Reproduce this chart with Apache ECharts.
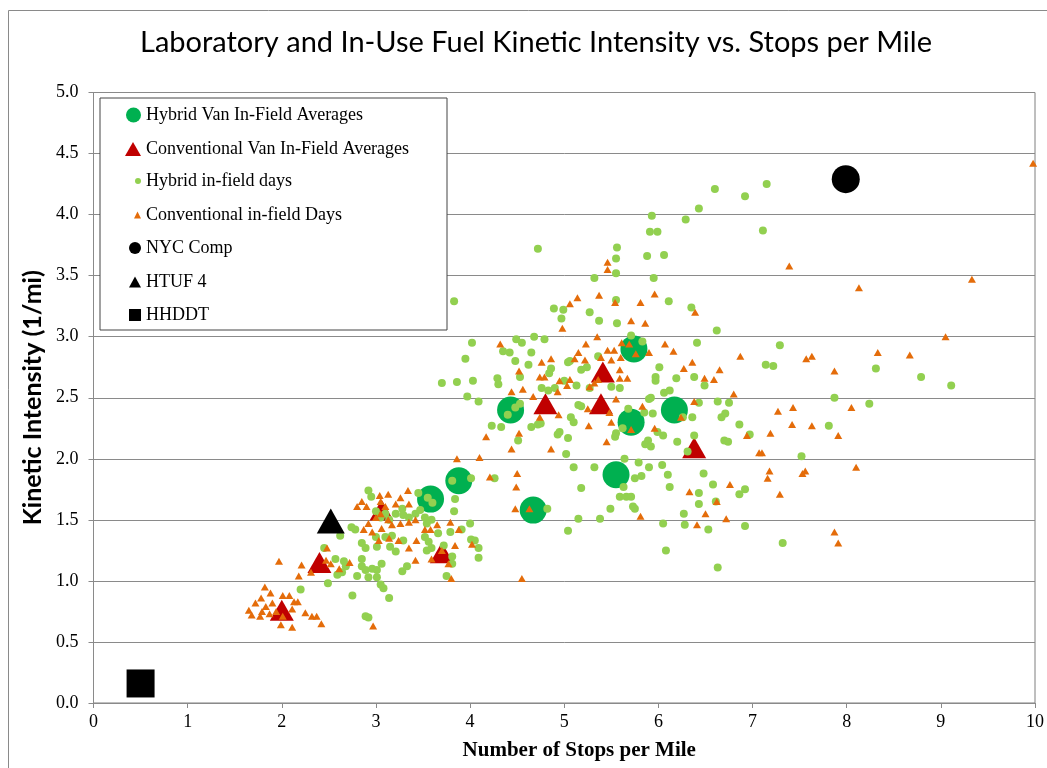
<!DOCTYPE html>
<html><head><meta charset="utf-8">
<script src="https://cdn.jsdelivr.net/npm/echarts@6/dist/echarts.min.js"></script>
<style>html,body{margin:0;padding:0;background:#fff}#c{width:1047px;height:768px}</style>
</head><body><div id="c"></div>
<script>
var titleText = "Laboratory and In-Use Fuel Kinetic Intensity vs. Stops per Mile";
var xAxisName = "Number of Stops per Mile";
var yAxisName = "Kinetic Intensity (1/mi)";
var seriesNames = ["Hybrid Van In-Field Averages","Conventional Van In-Field Averages","Hybrid in-field days","Conventional in-field Days","NYC Comp","HTUF 4","HHDDT"];

var hybridAvg = [[3.58,1.67],[3.88,1.82],[4.43,2.40],[4.67,1.58],[5.55,1.87],[5.71,2.30],[5.74,2.90],[6.17,2.40]];
var convAvg = [[2.00,0.76],[2.40,1.15],[3.06,1.58],[3.70,1.23],[4.80,2.45],[5.41,2.71],[5.39,2.45],[6.38,2.09]];
var nycComp = [[7.99,4.29]];
var htuf4 = [[2.52,1.49]];
var hhddt = [[0.50,0.16]];

var hybridDays = [
[2.92,1.74],[2.95,1.69],[3.84,1.67],[3.83,1.57],[3.00,1.57],[3.05,1.52],[3.10,1.55],[3.14,1.50],[3.21,1.55],[3.28,1.59],[3.29,1.54],[3.35,1.52],[3.42,1.55],[3.47,1.58],[3.52,1.52],[3.59,1.50],[3.54,1.47],[2.74,1.44],[2.78,1.42],[2.62,1.37],[3.00,1.36],[3.10,1.36],[3.17,1.37],[2.85,1.31],[2.89,1.27],[3.01,1.28],[3.15,1.28],[3.21,1.24],[3.52,1.36],[3.56,1.32],[3.54,1.25],[3.59,1.27],[3.66,1.39],[3.72,1.29],[3.79,1.40],[3.91,1.42],[4.00,1.47],[4.01,1.34],[4.05,1.33],[2.45,1.27],[2.57,1.18],[2.66,1.16],[2.68,1.12],[2.64,1.07],[2.59,1.05],[2.49,0.98],[2.85,1.18],[2.85,1.12],[2.89,1.09],[2.96,1.10],[3.01,1.09],[3.06,1.14],[3.01,1.03],[2.92,1.03],[2.80,1.04],[3.05,0.97],[3.08,0.94],[3.14,0.86],[2.75,0.88],[2.20,0.93],[3.28,1.08],[3.33,1.12],[3.75,1.04],[3.81,1.20],[3.81,1.14],[2.89,0.71],[2.92,0.70],[3.29,1.33],
[3.55,1.68],[3.60,1.64],[3.45,1.72],[3.81,1.82],[4.01,1.84],
[4.02,2.95],[3.95,2.82],[3.70,2.62],[3.86,2.63],[4.03,2.64],[3.97,2.51],[4.09,2.47],[4.29,2.66],[4.30,2.61],[4.23,2.27],[4.26,1.84],[4.40,2.36],[4.48,2.42],[4.53,2.45],[4.09,1.27],[4.09,1.19],[4.72,3.72],[3.83,3.29],
[4.89,3.23],[4.99,3.22],[4.97,3.15],[5.27,3.20],[5.37,3.13],[5.56,3.11],[5.55,3.30],[6.11,3.29],[6.35,3.24],[6.62,3.05],[4.49,2.98],[4.55,2.95],[4.68,3.00],[4.79,2.98],[4.42,2.87],[4.35,2.88],[4.65,2.87],[4.48,2.80],[4.62,2.77],[4.86,2.74],[4.84,2.70],[4.53,2.67],[4.76,2.58],[4.83,2.56],[4.90,2.58],[5.04,2.79],[5.06,2.80],[5.00,2.64],[5.13,2.60],[5.18,2.73],[5.24,2.75],[5.36,2.84],[5.27,2.58],[5.15,2.44],[5.18,2.43],[5.07,2.34],[5.10,2.30],[4.95,2.22],[4.93,2.20],[5.04,2.17],[5.02,2.04],[4.65,2.26],[4.72,2.28],[4.75,2.29],[4.33,2.26],[4.51,2.15],[5.50,2.59],[5.59,2.58],[5.55,2.21],[5.54,2.18],[5.62,2.25],[5.68,2.41],[5.71,3.01],[5.83,2.96],[5.97,2.67],[5.97,2.64],[6.01,2.75],[5.85,2.38],[5.94,2.37],[5.90,2.49],[5.92,2.50],[6.06,2.54],[6.12,2.56],[6.19,2.66],[6.26,2.34],[6.36,2.34],[6.41,2.95],[6.38,2.67],[6.49,2.60],[6.63,2.47],[6.67,2.34],[6.71,2.37],[6.70,2.15],[5.89,2.15],[5.86,2.12],[5.92,2.10],[5.99,2.22],[6.05,2.19],[6.20,2.14],[6.31,2.06],[6.38,2.19],[5.10,1.93],[5.32,1.93],[5.64,2.00],[5.79,1.97],[5.90,1.93],[6.04,1.95],[6.10,1.87],[5.75,1.84],[5.82,1.86],[5.63,1.77],[5.18,1.76],[5.59,1.69],[5.66,1.69],[5.71,1.69],[5.73,1.61],[5.75,1.59],[5.49,1.59],[5.38,1.51],[5.15,1.51],[5.04,1.41],[6.05,1.47],[6.12,1.77],[6.27,1.55],[6.28,1.46],[6.53,1.42],[6.43,1.72],[6.58,1.79],[6.48,1.88],[6.61,1.65],[4.82,1.59],
[7.15,4.25],[6.60,4.21],[6.92,4.15],[6.43,4.05],[6.29,3.96],[5.93,3.99],[5.91,3.86],[5.99,3.86],[7.11,3.87],[5.56,3.73],[5.55,3.64],[5.55,3.52],[5.88,3.66],[6.06,3.67],[5.32,3.48],[5.95,3.48],
[7.29,2.93],[7.14,2.77],[7.22,2.76],[8.31,2.74],[8.79,2.67],[9.11,2.60],[7.87,2.50],[8.24,2.45],[6.43,2.46],[6.75,2.46],[6.86,2.28],[6.97,2.20],[7.81,2.27],[6.74,2.14],[7.52,2.02],[6.43,1.63],[6.86,1.71],[6.92,1.75],[6.92,1.45],[7.32,1.31],[6.08,1.25],[6.63,1.11]
];

var convDays = [
[1.97,1.16],[2.21,1.13],[2.18,1.04],[2.31,1.07],[2.47,1.17],[2.48,1.27],[2.52,1.14],[2.61,1.10],[2.72,1.15],[1.82,0.95],[1.88,0.90],[1.78,0.86],[1.72,0.82],[1.65,0.76],[1.68,0.72],[1.77,0.71],[1.83,0.79],[1.90,0.82],[1.94,0.75],[2.01,0.88],[2.08,0.88],[2.13,0.83],[2.17,0.83],[2.11,0.77],[2.01,0.71],[1.99,0.64],[2.11,0.62],[2.25,0.74],[2.32,0.71],[2.37,0.71],[2.42,0.65],[2.97,0.63],[1.87,0.73],[1.79,0.75],
[2.80,1.61],[2.85,1.65],[2.90,1.61],[3.04,1.70],[3.13,1.71],[3.26,1.68],[3.35,1.63],[3.34,1.74],[3.21,1.63],[3.10,1.61],[3.00,1.52],[3.13,1.50],[2.87,1.42],[2.96,1.40],[3.06,1.43],[3.17,1.46],[3.26,1.47],[3.35,1.48],[2.92,1.47],[3.03,1.33],[3.14,1.35],[3.24,1.33],[3.35,1.27],[3.43,1.33],[3.52,1.42],[3.58,1.42],[3.42,1.17],[3.65,1.46],[3.79,1.48],[3.88,1.42],[3.84,1.29],[3.59,1.18],[3.77,1.14],[3.80,1.02],[3.70,1.25],[3.05,1.55],[3.42,1.50],[3.05,1.65],
[3.86,2.00],[4.10,2.01],[4.21,1.85],[4.17,2.18],[4.02,1.30],[4.55,1.02],
[5.14,3.32],[5.06,3.27],[5.37,3.34],[5.54,3.28],[5.81,3.28],[5.96,3.35],[5.71,3.13],[5.86,3.11],[6.39,3.20],[4.98,3.07],[5.35,3.00],[4.32,2.94],[5.23,2.94],[5.15,2.87],[5.11,2.82],[5.22,2.81],[4.86,2.82],[4.76,2.79],[5.46,2.89],[5.53,2.89],[5.39,2.83],[5.50,2.81],[5.61,2.95],[5.69,2.94],[5.60,2.83],[5.59,2.73],[5.76,2.86],[5.90,2.87],[6.07,2.94],[6.16,2.88],[6.36,2.79],[6.27,2.74],[6.65,2.73],[6.49,2.66],[6.59,2.65],[4.52,2.72],[4.74,2.67],[4.79,2.67],[4.95,2.64],[5.06,2.65],[4.44,2.55],[4.56,2.57],[4.67,2.51],[4.93,2.55],[5.03,2.60],[5.27,2.59],[5.32,2.62],[5.36,2.65],[5.55,2.49],[5.59,2.66],[5.67,2.66],[5.25,2.41],[5.48,2.38],[5.50,2.30],[4.74,2.34],[4.94,2.36],[5.83,2.43],[6.38,2.47],[6.24,2.34],[5.26,2.27],[5.45,2.14],[5.71,2.24],[5.96,2.25],[4.52,2.21],[4.44,2.08],[4.86,2.08],[4.50,1.88],[4.49,1.77],[4.48,1.59],[4.63,1.59],[6.33,1.73],[6.62,1.65],[6.50,1.55],[5.81,1.53],[6.41,1.46],[6.72,1.51],
[5.46,3.61],[5.46,3.55],[7.39,3.58],
[9.98,4.42],[8.13,3.40],[9.33,3.47],[9.05,3.00],[8.33,2.87],[8.67,2.85],[6.87,2.84],[7.57,2.82],[7.63,2.84],[7.87,2.72],[6.80,2.53],[7.27,2.39],[7.43,2.42],[8.05,2.42],[7.42,2.28],[7.63,2.27],[6.94,2.19],[7.19,2.21],[7.91,2.19],[7.07,2.05],[7.10,2.05],[8.10,1.93],[7.18,1.90],[7.16,1.84],[7.56,1.90],[7.53,1.88],[6.76,1.79],[7.29,1.71],[7.87,1.40],[7.91,1.31]
];

var xMin = 0, xMax = 10, xStep = 1;
var yMin = 0, yMax = 5, yStep = 0.5;

var serif = "'Liberation Serif','Times New Roman',serif";
var chart = echarts.init(document.getElementById('c'), null, {renderer:'canvas'});

var legendSpec = [
  {name: seriesNames[0], w: 15, h: 15, cy: 115},
  {name: seriesNames[1], w: 16, h: 14, cy: 149},
  {name: seriesNames[2], w: 6, h: 6, cy: 181},
  {name: seriesNames[3], w: 7, h: 7, cy: 215},
  {name: seriesNames[4], w: 12, h: 12, cy: 248},
  {name: seriesNames[5], w: 12, h: 11, cy: 282},
  {name: seriesNames[6], w: 12, h: 12, cy: 315}
];
var legends = legendSpec.map(function(s){
  return {
    data: [s.name], left: 141 - s.w, top: s.cy - 10, padding: 0, z: 30,
    itemWidth: s.w, itemHeight: s.h, selectedMode: false,
    textStyle: {fontFamily: serif, fontSize: 18, color: '#000', lineHeight: 20}
  };
});

chart.setOption({
  animation: false,
  backgroundColor: '#fff',
  title: {
    text: titleText, left: 135, top: 23,
    textStyle: {fontFamily: "Lato, 'Open Sans', sans-serif", fontSize: 29, fontWeight: 'normal', color: '#000'}
  },
  legend: legends,
  graphic: [
    {type:'rect', left: 6, top: 8, shape:{width: 1100, height: 800}, style:{fill:'none', stroke:'#8a8a8a', lineWidth:1}, z: -10, silent:true},
    {type:'rect', left: 99.5, top: 97.5, shape:{width: 347, height: 232}, style:{fill:'#fff', stroke:'#444', lineWidth:1}, z: 5, silent:true}
  ],
  grid: {left: 93.5, right: 8.5, top: 92.5, bottom: 65, show: true, borderColor: '#7f7f7f', borderWidth: 1, backgroundColor: 'transparent'},
  xAxis: {
    type: 'value', min: xMin, max: xMax, interval: xStep,
    name: xAxisName, nameLocation: 'middle', nameGap: 37,
    nameTextStyle: {fontFamily: serif, fontSize: 21, fontWeight: 'bold', color: '#000', padding: [0, 0, 0, 30]},
    axisLine: {show: true, lineStyle: {color: '#8a8a8a'}},
    axisTick: {show: true, length: 5, lineStyle: {color: '#8a8a8a'}},
    axisLabel: {fontFamily: serif, fontSize: 18, color: '#000', margin: 10},
    splitLine: {show: false}
  },
  yAxis: {
    type: 'value', min: yMin, max: yMax, interval: yStep,
    name: yAxisName, nameLocation: 'middle', nameGap: 45,
    nameTextStyle: {fontFamily: "Lato, 'Open Sans', sans-serif", fontSize: 25, fontWeight: 'bold', color: '#000'},
    axisLine: {show: true, lineStyle: {color: '#8a8a8a'}},
    axisTick: {show: true, length: 5, lineStyle: {color: '#8a8a8a'}},
    axisLabel: {fontFamily: serif, fontSize: 18, color: '#000', margin: 15, formatter: function(v){return v.toFixed(1);}},
    splitLine: {show: true, lineStyle: {color: '#8a8a8a', width: 1}}
  },
  series: [
    {name: seriesNames[0], type: 'scatter', data: hybridAvg, symbol: 'circle', symbolSize: 27, itemStyle: {color: '#00b050', opacity: 1}, z: 2},
    {name: seriesNames[1], type: 'scatter', data: convAvg, symbol: 'triangle', symbolSize: [24, 21], itemStyle: {color: '#c00000', opacity: 1}, z: 2},
    {name: seriesNames[2], type: 'scatter', data: hybridDays, symbol: 'circle', symbolSize: 8, itemStyle: {color: '#92d050', opacity: 1}, z: 3},
    {name: seriesNames[3], type: 'scatter', data: convDays, symbol: 'triangle', symbolSize: [8, 7], itemStyle: {color: '#e46c0a', opacity: 1}, z: 3},
    {name: seriesNames[4], type: 'scatter', data: nycComp, symbol: 'circle', symbolSize: 28, itemStyle: {color: '#000', opacity: 1}, z: 4},
    {name: seriesNames[5], type: 'scatter', data: htuf4, symbol: 'triangle', symbolSize: [28, 25], itemStyle: {color: '#000', opacity: 1}, z: 4},
    {name: seriesNames[6], type: 'scatter', data: hhddt, symbol: 'rect', symbolSize: 28, itemStyle: {color: '#000', opacity: 1}, z: 4}
  ]
});
</script>
</body></html>
